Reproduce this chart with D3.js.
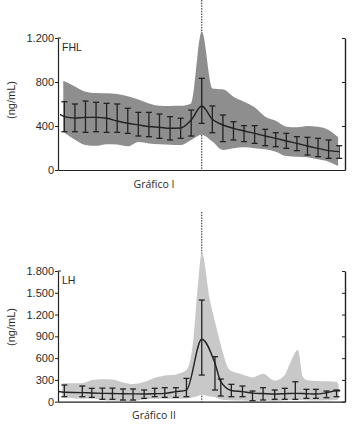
<!DOCTYPE html>
<html><head><meta charset="utf-8">
<script src="https://cdn.jsdelivr.net/npm/d3@7"></script>
<style>
html,body{margin:0;padding:0;background:#fff;}
svg{display:block;}
text{font-family:"Liberation Sans",Arial,sans-serif;fill:#2a2a2a;}
</style></head>
<body><svg id="c" width="352" height="426"></svg>
<script>
// ---- Data (days relative to peak) ----
const fhlDays = [-13,-12,-11,-10,-9,-8,-7,-6,-5,-4,-3,-2,-1,0,1,2,3,4,5,6,7,8,9,10,11,12,13];
const fhlMean = [485,472,478,478,470,445,425,410,395,388,380,382,455,582,461,409,379,355,333,309,288,264,242,218,197,176,167];
const fhlHigh = [621,600,627,615,606,600,561,524,524,509,485,470,545,833,582,500,439,403,403,370,339,333,303,297,288,273,221];
const fhlLow  = [348,348,342,348,342,342,333,309,303,288,273,288,309,424,339,258,273,258,242,221,212,197,176,136,121,106,106];
const fhlLineDays = [-13.4].concat(fhlDays);
const fhlLineVals = [505].concat(fhlMean);
const fhlBandDays = [-13.1,-12,-11,-10,-9,-8,-7,-6,-5,-4,-3,-2,-1,0,1,2,3,4,5,6,7,8,9,10,11,12,12.9];
const fhlBandUpper = [811,760,712,700,697,690,670,640,605,585,582,583,605,1258,742,733,667,621,570,485,448,394,388,400,394,364,297];
const fhlBandLower = [348,275,228,220,235,232,215,255,242,235,230,227,273,320,258,182,197,206,197,188,167,127,121,115,97,76,36];
const fhlTicks = [0,400,800,1200];

const lhDays = [-13,-11.3,-10.4,-9.4,-8.45,-7.45,-6.5,-5.45,-4.45,-3.5,-2.45,-1.45,0,1.25,1.8,2.8,3.85,4.8,5.8,6.9,7.85,8.85,9.9,10.8,11.8,12.75];
const lhMean = [130,125,120,115,112,110,108,106,110,115,138,160,860,528,275,155,138,118,112,106,110,115,110,106,124,150];
const lhHigh = [230,216,184,187,187,175,175,161,184,193,193,321,1400,620,312,239,216,147,193,161,184,275,170,170,147,161];
const lhLow  = [69,69,60,33,33,23,23,46,69,60,60,69,367,161,78,69,69,14,23,33,33,33,46,46,55,69];
const lhLineDays = [-13.55].concat(lhDays,[13.1]);
const lhLineVals = [140].concat(lhMean,[150]);
const lhBandDays = [-13.2,-12,-11.3,-10.4,-9.4,-8.45,-7.45,-6.5,-5.45,-4.45,-3.5,-2.45,-1.45,-0.8,-0.35,0,0.77,1.25,1.8,2.65,3.85,4.8,5.8,6.9,7.85,8.35,9.1,9.55,9.9,10.8,11.8,12.75,12.95];
const lhBandUpper = [253,253,255,300,308,305,265,243,270,330,360,375,436,849,1630,2050,1400,1100,780,436,375,335,385,290,367,528,711,344,300,285,280,275,230];
const lhBandLower = [60,45,40,45,25,15,10,10,30,40,40,40,45,60,80,95,70,60,30,20,15,10,15,10,20,25,25,25,20,15,20,25,40];
const lhTicks = [0,300,600,900,1200,1500,1800];

const fmt = v => d3.format(",")(v).replace(/,/g, ".");

const svg = d3.select("#c");
const x = d3.scaleLinear().domain([-13.6, 13.55]).range([58, 345]);

function panel(o) {
  const y = d3.scaleLinear().domain(o.domain).range([o.bottom, o.top]);
  const g = svg.append("g");
  // dashed reference line at day 0
  g.append("line").attr("x1", x(0)).attr("x2", x(0)).attr("y1", o.dashTop).attr("y2", o.bottom)
    .attr("stroke", "#222").attr("stroke-width", 1).attr("stroke-dasharray", "1.5,1.2");
  // band
  const bandData = o.bandDays.map((d, i) => ({d, u: o.bandUpper[i], l: o.bandLower[i]}));
  g.append("path").datum(bandData)
    .attr("d", d3.area().x(p => x(p.d)).y0(p => y(p.l)).y1(p => y(p.u)).curve(d3.curveMonotoneX))
    .attr("fill", o.bandColor);
  // mean line
  const lineData = o.lineDays.map((d, i) => ({d, v: o.lineVals[i]}));
  g.append("path").datum(lineData)
    .attr("d", d3.line().x(p => x(p.d)).y(p => y(p.v)).curve(d3.curveMonotoneX))
    .attr("fill", "none").attr("stroke", "#222").attr("stroke-width", 1.4);
  // error bars
  const eb = g.append("g").attr("stroke", "#222").attr("stroke-width", 1.3);
  o.days.forEach((d, i) => {
    const cx = x(d);
    eb.append("line").attr("x1", cx).attr("x2", cx).attr("y1", y(o.high[i])).attr("y2", y(o.low[i]));
    eb.append("line").attr("x1", cx - 3).attr("x2", cx + 3).attr("y1", y(o.high[i])).attr("y2", y(o.high[i]));
    eb.append("line").attr("x1", cx - 3).attr("x2", cx + 3).attr("y1", y(o.low[i])).attr("y2", y(o.low[i]));
  });
  // left axis
  const la = g.append("g").attr("transform", `translate(58,0)`)
    .call(d3.axisLeft(y).tickValues(o.ticks).tickSize(3).tickSizeOuter(0).tickFormat(fmt));
  la.select(".domain").attr("stroke", "#222").attr("stroke-width", 1.2);
  la.selectAll(".tick line").attr("stroke", "#222");
  la.selectAll(".tick text").attr("font-size", 11).attr("fill", "#333").attr("x", -4)
    .style("font-family", "'Liberation Sans', Arial, sans-serif");
  g.append("line").attr("x1", 58).attr("x2", 61).attr("y1", o.top).attr("y2", o.top).attr("stroke", "#222");
  // right axis
  const ra = g.append("g").attr("transform", `translate(345,0)`)
    .call(d3.axisLeft(y).tickValues(o.ticks).tickSize(3).tickSizeOuter(0).tickFormat(""));
  ra.select(".domain").attr("stroke", "#222").attr("stroke-width", 1.4);
  ra.selectAll(".tick line").attr("stroke", "#222");
  // x axis line
  const xa = g.append("g").attr("transform", `translate(0,${o.bottom})`)
    .call(d3.axisBottom(x).tickValues([]).tickSizeOuter(0));
  xa.select(".domain").attr("stroke", "#222").attr("stroke-width", 1.2);
  // labels
  g.append("text").attr("x", 62).attr("y", o.top + 13).attr("font-size", 10.5).text(o.name);
  g.append("text").attr("transform", `translate(15,${o.labelY}) rotate(-90)`)
    .attr("text-anchor", "middle").attr("font-size", 11).attr("fill", "#333").text("(ng/mL)");
  g.append("text").attr("x", 154).attr("y", o.bottom + o.titleDy).attr("text-anchor", "middle")
    .attr("font-size", 10.5).attr("fill", "#222").style("font-family", "'Open Sans', sans-serif").text(o.title);
}

panel({domain:[0,1200], top:38, bottom:170, dashTop:0, ticks:fhlTicks, name:"FHL", title:"Gráfico I",
  days:fhlDays, high:fhlHigh, low:fhlLow, lineDays:fhlLineDays, lineVals:fhlLineVals,
  bandDays:fhlBandDays, bandUpper:fhlBandUpper, bandLower:fhlBandLower, bandColor:"#8e8e8e",
  labelY:100, titleDy:18});
panel({domain:[0,1800], top:271, bottom:401.7, dashTop:212, ticks:lhTicks, name:"LH", title:"Gráfico II",
  days:lhDays, high:lhHigh, low:lhLow, lineDays:lhLineDays, lineVals:lhLineVals,
  bandDays:lhBandDays, bandUpper:lhBandUpper, bandLower:lhBandLower, bandColor:"#c8c8c8",
  labelY:327, titleDy:17});
</script></body></html>
